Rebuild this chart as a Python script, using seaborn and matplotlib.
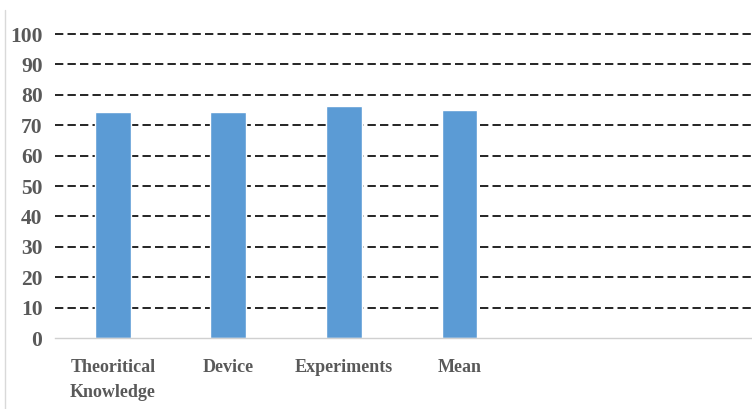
import seaborn as sns
import matplotlib.pyplot as plt
from matplotlib.lines import Line2D

categories = ["Theoritical\nKnowledge", "Device", "Experiments", "Mean"]
scores = [74.3, 74.3, 76.3, 75.0]
yticks = [0, 10, 20, 30, 40, 50, 60, 70, 80, 90, 100]

sns.set_theme(style="white")
plt.rcParams["font.family"] = ["Liberation Serif", "DejaVu Serif"]

fig = plt.figure(figsize=(7.52, 4.09), dpi=100)
ax = fig.add_axes([55 / 752, 71 / 409, 697 / 752, 304 / 409])

# dashed gridlines behind the bars
for t in yticks[1:]:
    ax.axhline(t, color="black", linewidth=1.2, linestyle=(0, (5, 2.5)),
               zorder=0, clip_on=False)

sns.barplot(x=categories, y=scores, color="#5B9BD5", width=0.31,
            saturation=1, ax=ax, zorder=2)

ax.set_xlim(-0.5, 5.53)
ax.set_ylim(0, 100)
ax.set_yticks(yticks)
ax.set_xlabel("")
ax.set_ylabel("")

for side in ["top", "right", "left"]:
    ax.spines[side].set_visible(False)
ax.spines["bottom"].set_color("#d0d0d0")
ax.spines["bottom"].set_linewidth(1.0)

ax.tick_params(axis="both", length=0, colors="#595959")
ax.tick_params(axis="x", pad=15, labelsize=13)
ax.tick_params(axis="y", pad=9, labelsize=15.5)
for lbl in ax.get_xticklabels() + ax.get_yticklabels():
    lbl.set_fontweight("bold")
for lbl in ax.get_xticklabels():
    lbl.set_linespacing(1.65)

# light chart frame on the left
fig.add_artist(Line2D([5 / 752, 5 / 752], [0, 1 - 10 / 409],
                      color="#d9d9d9", linewidth=1.0))

fig.savefig("out.png", dpi=100)
